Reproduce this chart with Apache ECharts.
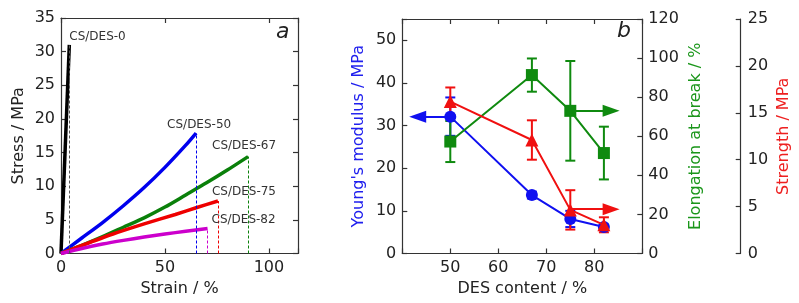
<!DOCTYPE html>
<html><head><meta charset="utf-8">
<script src="https://cdn.jsdelivr.net/npm/echarts@6/dist/echarts.min.js"></script>
<style>html,body{margin:0;padding:0;background:#fff}#c{width:799px;height:303px}</style>
</head><body><div id="c"></div>
<script>
// ---- Panel a: stress-strain curves ----
const curveNames = ['CS/DES-0','CS/DES-50','CS/DES-67','CS/DES-75','CS/DES-82'];
const strain0  = [0, 4];
const stress0  = [0, 31];
const strain50 = [0, 10, 20, 30, 40, 50, 60, 65];
const stress50 = [0, 2.3, 4.6, 7.1, 9.8, 12.8, 16.1, 17.9];
const strain67 = [0, 10, 20, 30, 40, 50, 60, 70, 80, 90];
const stress67 = [0, 1.2, 2.5, 3.9, 5.3, 6.9, 8.7, 10.5, 12.4, 14.4];
const strain75 = [0, 10, 25, 40, 55, 65, 75.5];
const stress75 = [0, 1.2, 2.9, 4.4, 5.8, 6.8, 7.8];
const strain82 = [0, 10, 20, 30, 40, 50, 60, 70.5];
const stress82 = [0, 0.75, 1.4, 1.95, 2.45, 2.9, 3.3, 3.7];
const colorsA = ['#000000','#0000ee','#0a800a','#ee0000','#cc00cc'];
const xTicksA = [0, 50, 100];
const yTicksA = [0, 5, 10, 15, 20, 25, 30, 35];

// ---- Panel b: properties vs DES content ----
const desContent = [50, 67, 75, 82];
const modulus    = [32.1, 13.7, 8.1, 6.2];
const modulusErr = [4.5, 0.8, 1.9, 0.6];
const elong      = [57.3, 91.3, 73.0, 51.4];
const elongErr   = [10.5, 8.5, 25.5, 13.5];
const strength   = [16.2, 12.1, 4.65, 3.06];
const strengthErr= [1.5, 2.1, 2.1, 0.8];
const xTicksB = [50, 60, 70, 80];
// arrows: [fromX, toX, y] in data units of each axis
const arrowModulus  = [50, 43.2, 32.1];
const arrowElong    = [75, 83.5, 73.0];
const arrowStrength = [75, 83.5, 4.72];

const FONT = 'DejaVu Sans';
const TXT = '#222';
const chart = echarts.init(document.getElementById('c'), null, {renderer:'canvas'});

function zip(a,b){return a.map((v,i)=>[v,b[i]]);}
function axisCommon(extra){
  return Object.assign({
    type:'value', splitLine:{show:false},
    axisLine:{show:true, onZero:false, lineStyle:{color:'#333', width:1.2}},
    axisTick:{show:true, inside:true, length:5, lineStyle:{color:'#333', width:1.2}},
    axisLabel:{show:true, color:TXT, fontFamily:FONT, fontSize:16},
    nameTextStyle:{fontFamily:FONT, fontSize:16, color:TXT}
  }, extra);
}
function onlyTicks(list){return v => list.includes(v) ? String(v) : '';}

const strains = [strain0, strain50, strain67, strain75, strain82];
const stresses = [stress0, stress50, stress67, stress75, stress82];
const labelOffsets = [[0,-8,'left'],[3,-8,'center'],[-4,-11,'center'],[26,-9,'center'],[36,-9,'center']];

const series = [];
strains.forEach((sx, i) => {
  const sy = stresses[i];
  const n = sx.length - 1;
  series.push({
    type:'line', xAxisIndex:0, yAxisIndex:0, data: zip(sx, sy),
    smooth: 0.25, showSymbol:false, symbol:'none', silent:true,
    lineStyle:{color:colorsA[i], width:3.5}, z: 3,
    markLine:{silent:true, symbol:'none', animation:false,
      lineStyle:{color: i===0 ? '#555' : colorsA[i], type:[3,2], width:1},
      label:{show:false},
      data:[[{coord:[sx[n],0]},{coord:[sx[n],sy[n]]}]]},
    markPoint:{silent:true, animation:false, symbol:'circle', symbolSize:0,
      data:[{coord:[sx[n],sy[n]], name:curveNames[i]}],
      label:{show:true, formatter:curveNames[i], color:'#333', fontFamily:FONT, fontSize:12,
        position:[labelOffsets[i][0], labelOffsets[i][1]], align:labelOffsets[i][2], verticalAlign:'middle'}}
  });
});

function errSeries(yIdx, vals, errs, color){
  return {
    type:'custom', xAxisIndex:2, yAxisIndex:yIdx, silent:true, z:4,
    data: desContent.map((x,i)=>[x, vals[i], errs[i]]),
    renderItem: function(params, api){
      const x = api.value(0), y = api.value(1), e = api.value(2);
      const t = api.coord([x, y+e]), b = api.coord([x, y-e]);
      const w = 5;
      const st = {stroke: color, lineWidth: 2};
      return {type:'group', children:[
        {type:'line', shape:{x1:t[0], y1:t[1], x2:b[0], y2:b[1]}, style:st},
        {type:'line', shape:{x1:t[0]-w, y1:t[1], x2:t[0]+w, y2:t[1]}, style:st},
        {type:'line', shape:{x1:b[0]-w, y1:b[1], x2:b[0]+w, y2:b[1]}, style:st}
      ]};
    }
  };
}
function arrowLine(arr){
  return {silent:true, animation:false, symbol:['none','triangle'], symbolSize:[12,17],
    label:{show:false}, lineStyle:{type:'solid', width:2},
    data:[[{coord:[arr[0],arr[2]]},{coord:[arr[1],arr[2]]}]]};
}
const cB='#1010f0', cG='#0f8a0f', cR='#f01010';
series.push(errSeries(2, modulus, modulusErr, cB));
series.push({type:'line', xAxisIndex:2, yAxisIndex:2, data:zip(desContent, modulus),
  symbol:'circle', symbolSize:12, itemStyle:{color:cB}, lineStyle:{color:cB, width:2}, z:5,
  markLine: Object.assign(arrowLine(arrowModulus), {lineStyle:{color:cB, width:2, type:'solid'}})});
series.push(errSeries(3, elong, elongErr, cG));
series.push({type:'line', xAxisIndex:2, yAxisIndex:3, data:zip(desContent, elong),
  symbol:'rect', symbolSize:12, itemStyle:{color:cG}, lineStyle:{color:cG, width:2}, z:5,
  markLine: Object.assign(arrowLine(arrowElong), {lineStyle:{color:cG, width:2, type:'solid'}})});
series.push(errSeries(4, strength, strengthErr, cR));
series.push({type:'line', xAxisIndex:2, yAxisIndex:4, data:zip(desContent, strength),
  symbol:'triangle', symbolSize:13, itemStyle:{color:cR}, lineStyle:{color:cR, width:2}, z:6,
  markLine: Object.assign(arrowLine(arrowStrength), {lineStyle:{color:cR, width:2, type:'solid'}})});

const option = {
  animation:false,
  grid:[
    {left:61, right:501, top:18, bottom:49.5},
    {left:402.3, right:156.7, top:19, bottom:49.5}
  ],
  xAxis:[
    axisCommon({gridIndex:0, position:'bottom', min:0, max:114, interval:50,
      name:'Strain / %', nameLocation:'middle', nameGap:25,
      axisLabel:{color:TXT, fontFamily:FONT, fontSize:16, margin:6, formatter:onlyTicks(xTicksA)}}),
    axisCommon({gridIndex:0, position:'top', min:0, max:114, interval:50, axisLabel:{show:false}}),
    axisCommon({gridIndex:1, position:'bottom', min:40, max:90, interval:10,
      name:'DES content / %', nameLocation:'middle', nameGap:25,
      axisLabel:{color:TXT, fontFamily:FONT, fontSize:16, margin:6, formatter:onlyTicks(xTicksB)}}),
    axisCommon({gridIndex:1, position:'top', min:40, max:90, interval:10, axisLabel:{show:false}})
  ],
  yAxis:[
    axisCommon({gridIndex:0, position:'left', min:0, max:35, interval:5,
      name:'Stress / MPa', nameLocation:'middle', nameGap:34,
      axisLabel:{color:TXT, fontFamily:FONT, fontSize:16, margin:6, formatter:onlyTicks(yTicksA)}}),
    axisCommon({gridIndex:0, position:'right', min:0, max:35, interval:5, axisLabel:{show:false}}),
    axisCommon({gridIndex:1, position:'left', min:0, max:55, interval:10,
      name:"Young's modulus / MPa", nameLocation:'middle', nameGap:35,
      nameTextStyle:{fontFamily:FONT, fontSize:16, color:'#2020ee'},
      axisLabel:{color:TXT, fontFamily:FONT, fontSize:16, margin:6, formatter:onlyTicks([0,10,20,30,40,50])}}),
    axisCommon({gridIndex:1, position:'right', min:0, max:120, interval:20,
      name:'Elongation at break / %', nameLocation:'middle', nameGap:46,
      nameTextStyle:{fontFamily:FONT, fontSize:16, color:'#1a961a'},
      axisLabel:{color:TXT, fontFamily:FONT, fontSize:16, margin:6}}),
    axisCommon({gridIndex:1, position:'right', offset:98.4, min:0, max:25, interval:5,
      name:'Strength / MPa', nameLocation:'middle', nameGap:35,
      nameTextStyle:{fontFamily:FONT, fontSize:16, color:'#ee2020'},
      axisLabel:{color:TXT, fontFamily:FONT, fontSize:16, margin:7}})
  ],
  graphic:[
    {type:'text', left:276, top:21, style:{text:'a', font:'italic 22px "DejaVu Sans"', fill:'#222'}},
    {type:'text', left:617, top:20, style:{text:'b', font:'italic 22px "DejaVu Sans"', fill:'#222'}}
  ],
  series: series
};
chart.setOption(option);
</script></body></html>
